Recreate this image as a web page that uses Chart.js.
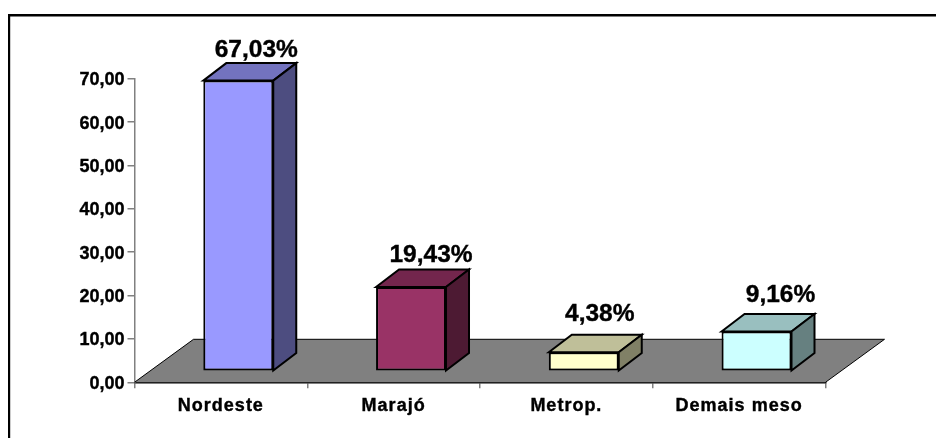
<!DOCTYPE html>
<html>
<head>
<meta charset="utf-8">
<style>
  html, body { margin: 0; padding: 0; background: #fff; }
  #wrap { position: relative; width: 936px; height: 438px; }
</style>
<script src="https://cdn.jsdelivr.net/npm/chart.js@4/dist/chart.umd.min.js"></script>
</head>
<body>
<div id="wrap"><canvas id="myChart" width="936" height="438"></canvas></div>
<script>
const categories = ['Nordeste', 'Marajó', 'Metrop.', 'Demais meso'];
const values = [67.03, 19.43, 4.38, 9.16];
const yMax = 70;
const yStep = 10;

const faceColors = ['#9999FF', '#993366', '#FFFFCC', '#CCFFFF'];
const topColors = ['#7373BF', '#73264D', '#BFBF99', '#99BFBF'];
const sideColors = ['#4D4D80', '#4D1A33', '#808066', '#668080'];

// 3D look: front of the bars sits a bit up and right of the axis
const front = { dx: 17.4, dy: -11 };
const bar3d = { dx: 23, dy: -17.5 };
const floor = { dx: 59, dy: -43 };
// value label nudges from the middle of each bar's front face
const labelDx = [18, 20, 16, 24];
const labelDy = [24, 25, 31, 30];

const comma = (v, d) => v.toFixed(d).replace('.', ',');

function poly(ctx, pts, fill, stroke) {
  ctx.beginPath();
  pts.forEach((p, i) => (i ? ctx.lineTo(p[0], p[1]) : ctx.moveTo(p[0], p[1])));
  ctx.closePath();
  if (fill) {
    ctx.fillStyle = fill;
    ctx.fill();
  }
  if (stroke) {
    ctx.strokeStyle = stroke;
    ctx.lineWidth = 2;
    ctx.lineJoin = 'miter';
    ctx.stroke();
  }
}

const frame3d = {
  id: 'frame3d',
  beforeDraw(chart) {
    const ctx = chart.ctx;
    ctx.save();
    ctx.fillStyle = '#000';
    ctx.fillRect(8, 14, 928, 2.5);
    ctx.fillRect(8, 14, 2.2, 424);
    ctx.restore();

    // wider letters on the category labels, value labels a little lower
    const x = chart.scales.x;
    const y = chart.scales.y;
    if (!x._patched) {
      const drawX = x.drawLabels;
      x.drawLabels = function (area) {
        chart.ctx.letterSpacing = '1px';
        drawX.call(this, area);
        chart.ctx.letterSpacing = '0px';
      };
      const drawY = y.drawLabels;
      y.drawLabels = function (area) {
        chart.ctx.save();
        chart.ctx.translate(0, 1.5);
        drawY.call(this, area);
        chart.ctx.restore();
      };
      x._patched = true;
    }
  },
  beforeDatasetsDraw(chart) {
    const { ctx, chartArea: a } = chart;
    ctx.save();
    poly(ctx, [
      [a.left, a.bottom],
      [a.left + floor.dx, a.bottom + floor.dy],
      [a.right + floor.dx, a.bottom + floor.dy],
      [a.right, a.bottom],
    ], '#808080', null);
    ctx.strokeStyle = '#000';
    ctx.lineWidth = 1;
    ctx.beginPath();
    ctx.moveTo(a.left, a.bottom);
    ctx.lineTo(a.left + floor.dx, a.bottom + floor.dy);
    ctx.lineTo(a.right + floor.dx, a.bottom + floor.dy);
    ctx.lineTo(a.right, a.bottom);
    ctx.stroke();
    ctx.restore();
  },
  beforeDatasetDraw(chart, args) {
    const ctx = chart.ctx;
    ctx.save();
    ctx.translate(front.dx, front.dy);
    args.meta.data.forEach((bar, i) => {
      const l = bar.x - bar.width / 2;
      const r = bar.x + bar.width / 2;
      const t = bar.y;
      const b = bar.base;
      poly(ctx, [[l, t], [l + bar3d.dx, t + bar3d.dy], [r + bar3d.dx, t + bar3d.dy], [r, t]], topColors[i], '#000');
      poly(ctx, [[r, t], [r + bar3d.dx, t + bar3d.dy], [r + bar3d.dx, b + bar3d.dy], [r, b]], sideColors[i], '#000');
    });
  },
  afterDatasetDraw(chart) {
    chart.ctx.restore();
  },
  afterDatasetsDraw(chart) {
    const ctx = chart.ctx;
    const meta = chart.getDatasetMeta(0);
    ctx.save();
    ctx.font = 'bold 24.5px "Liberation Sans", Arial, sans-serif';
    ctx.fillStyle = '#000';
    ctx.strokeStyle = '#000';
    ctx.lineWidth = 0.4;
    ctx.textAlign = 'center';
    ctx.textBaseline = 'alphabetic';
    meta.data.forEach((bar, i) => {
      const text = comma(values[i], 2) + '%';
      const tx = bar.x + front.dx + labelDx[i];
      const ty = bar.y + front.dy - labelDy[i];
      ctx.fillText(text, tx, ty);
      ctx.strokeText(text, tx, ty);
    });
    ctx.restore();
  },
};

const tickFont = { family: '"Liberation Sans", Arial, sans-serif', size: 18, weight: 'bold' };

new Chart('myChart', {
  type: 'bar',
  data: {
    labels: categories,
    datasets: [{
      data: values,
      backgroundColor: faceColors,
      borderColor: '#000',
      borderWidth: 2,
      borderSkipped: false,
      barPercentage: 0.405,
      categoryPercentage: 1,
      clip: false,
    }],
  },
  options: {
    responsive: false,
    animation: false,
    devicePixelRatio: 1,
    layout: { padding: { left: 0, right: 110.5, top: 78.7, bottom: 5.7 } },
    plugins: { legend: { display: false }, title: { display: false }, tooltip: { enabled: false } },
    scales: {
      x: {
        afterFit(s) { s.height = 50; },
        border: { color: '#000', width: 1.5 },
        grid: { drawOnChartArea: false, color: '#808080', tickLength: 6, lineWidth: 1.5 },
        ticks: { color: '#000', font: tickFont, padding: 7, maxRotation: 0, autoSkip: false, textStrokeColor: '#000', textStrokeWidth: 0.4 },
      },
      y: {
        min: 0,
        max: yMax,
        afterFit(s) { s.width = 134.5; },
        border: { color: '#808080', width: 1.5 },
        grid: { drawOnChartArea: false, color: '#808080', tickLength: 7, lineWidth: 1.5 },
        ticks: { stepSize: yStep, color: '#000', font: tickFont, padding: 3, textStrokeColor: '#000', textStrokeWidth: 0.4, callback: v => comma(v, 2) },
      },
    },
  },
  plugins: [frame3d],
});
</script>
</body>
</html>
